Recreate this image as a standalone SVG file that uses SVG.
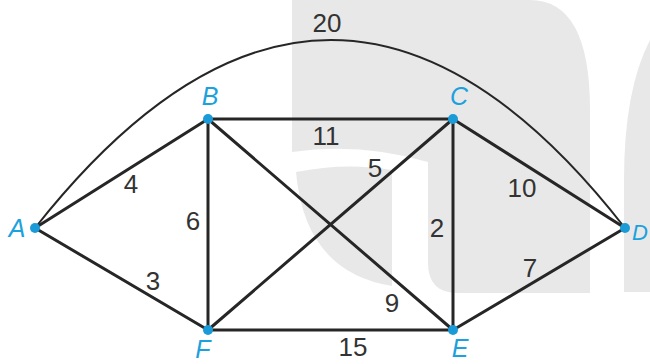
<svg xmlns="http://www.w3.org/2000/svg" width="650" height="364" viewBox="0 0 650 364">
<style>
.wm{fill:#e8e8e8;stroke:none}
.e{stroke:#262626;stroke-width:3;fill:none;stroke-linecap:round}
.arc{stroke:#262626;stroke-width:2;fill:none}
.w{font-family:"Liberation Sans",Arial,sans-serif;font-size:26px;fill:#333;text-anchor:middle}
.dot{fill:#1a9bd7}
.lbl{font-family:"Liberation Sans",Arial,sans-serif;font-size:25px;font-style:italic;fill:#1ba1dc;text-anchor:middle}
</style>
<rect width="650" height="364" fill="#fff"/>
<g id="watermark">
<path class="wm" d="M292,0 H530 Q590,0 590,110 V293 H458 Q428,293 428,263 V162 Q360,142 292,152 Z"/>
<path class="wm" d="M296,172 Q345,162 392,170 V286 Q305,272 296,172 Z"/>
<path class="wm" d="M650,40 Q624,90 624,180 V292 H650 Z"/>
</g>
<g id="connectors">
<path class="arc" d="M35,228 Q332,-148 625,228"/>
<line class="e" x1="35" y1="228" x2="208" y2="119"/>
<line class="e" x1="35" y1="228" x2="208" y2="330"/>
<line class="e" x1="208" y1="119" x2="453" y2="119"/>
<line class="e" x1="208" y1="119" x2="208" y2="330"/>
<line class="e" x1="208" y1="119" x2="453" y2="330"/>
<line class="e" x1="208" y1="330" x2="453" y2="119"/>
<line class="e" x1="208" y1="330" x2="453" y2="330"/>
<line class="e" x1="453" y1="119" x2="453" y2="330"/>
<line class="e" x1="453" y1="119" x2="625" y2="228"/>
<line class="e" x1="453" y1="330" x2="625" y2="228"/>
<text class="w" x="327" y="32">20</text>
<text class="w" x="326" y="145">11</text>
<text class="w" x="375" y="177">5</text>
<text class="w" x="522" y="197">10</text>
<text class="w" x="437" y="237">2</text>
<text class="w" x="530" y="277">7</text>
<text class="w" x="392" y="312">9</text>
<text class="w" x="353" y="356">15</text>
<text class="w" x="131" y="193">4</text>
<text class="w" x="193" y="230">6</text>
<text class="w" x="153" y="290">3</text>
</g>
<g id="node-A"><circle class="dot" cx="35" cy="228" r="5"/><text class="lbl" x="17" y="237">A</text></g>
<g id="node-B"><circle class="dot" cx="208" cy="119" r="5"/><text class="lbl" x="210" y="105">B</text></g>
<g id="node-C"><circle class="dot" cx="453" cy="119" r="5"/><text class="lbl" x="459" y="105">C</text></g>
<g id="node-D"><circle class="dot" cx="625" cy="228" r="5"/><text class="lbl" x="632" y="240" style="text-anchor:start;font-size:22px">D</text></g>
<g id="node-E"><circle class="dot" cx="453" cy="330" r="5"/><text class="lbl" x="460" y="357">E</text></g>
<g id="node-F"><circle class="dot" cx="208" cy="330" r="5"/><text class="lbl" x="203" y="358">F</text></g>
</svg>
